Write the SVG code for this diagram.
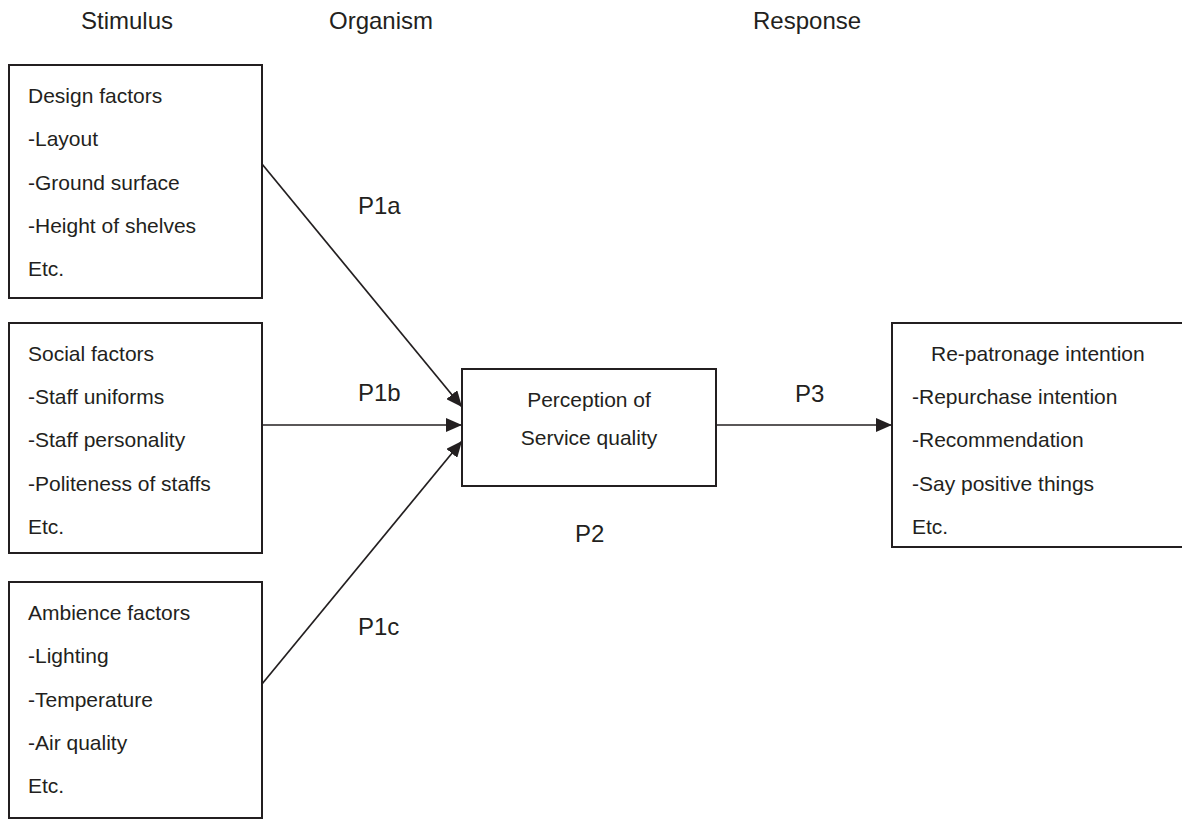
<svg xmlns="http://www.w3.org/2000/svg" width="1182" height="819" viewBox="0 0 1182 819">
<style>
  .box { fill: #ffffff; stroke: #231f20; stroke-width: 2; }
  .t { font-family: "Liberation Sans", Arial, sans-serif; font-size: 21px; fill: #231f20; }
  .h { font-family: "Liberation Sans", Arial, sans-serif; font-size: 24px; fill: #231f20; }
  .p { font-family: "Liberation Sans", Arial, sans-serif; font-size: 24px; fill: #231f20; }
  .c { font-family: "Liberation Sans", Arial, sans-serif; font-size: 21px; fill: #231f20; text-anchor: middle; }
  .ln { stroke: #231f20; stroke-width: 1.7; fill: none; marker-end: url(#ah); }
</style>
<defs>
  <marker id="ah" markerWidth="16" markerHeight="14" refX="16" refY="7" orient="auto" markerUnits="userSpaceOnUse">
    <path d="M0,0 L16,7 L0,14 Z" fill="#231f20"/>
  </marker>
</defs>
<rect width="1182" height="819" fill="#ffffff"/>
<g id="headers">
  <text class="h" x="81" y="29">Stimulus</text>
  <text class="h" x="329" y="29">Organism</text>
  <text class="h" x="753" y="29">Response</text>
</g>
<g id="design">
  <rect class="box" x="9" y="65" width="253" height="233"/>
  <text class="t" x="28" y="103">Design factors</text>
  <text class="t" x="28" y="146">-Layout</text>
  <text class="t" x="28" y="190">-Ground surface</text>
  <text class="t" x="28" y="233">-Height of shelves</text>
  <text class="t" x="28" y="276">Etc.</text>
</g>
<g id="social">
  <rect class="box" x="9" y="323" width="253" height="230"/>
  <text class="t" x="28" y="361">Social factors</text>
  <text class="t" x="28" y="404">-Staff uniforms</text>
  <text class="t" x="28" y="447">-Staff personality</text>
  <text class="t" x="28" y="491">-Politeness of staffs</text>
  <text class="t" x="28" y="534">Etc.</text>
</g>
<g id="ambience">
  <rect class="box" x="9" y="582" width="253" height="236"/>
  <text class="t" x="28" y="620">Ambience factors</text>
  <text class="t" x="28" y="663">-Lighting</text>
  <text class="t" x="28" y="707">-Temperature</text>
  <text class="t" x="28" y="750">-Air quality</text>
  <text class="t" x="28" y="793">Etc.</text>
</g>
<g id="perception">
  <rect class="box" x="462" y="369" width="254" height="117"/>
  <text class="c" x="589" y="407">Perception of</text>
  <text class="c" x="589" y="445">Service quality</text>
</g>
<g id="repatronage">
  <rect class="box" x="892" y="323" width="295" height="224"/>
  <text class="t" x="931" y="361">Re-patronage intention</text>
  <text class="t" x="912" y="404">-Repurchase intention</text>
  <text class="t" x="912" y="447">-Recommendation</text>
  <text class="t" x="912" y="491">-Say positive things</text>
  <text class="t" x="912" y="534">Etc.</text>
</g>
<g id="connectors">
  <line class="ln" x1="262" y1="164" x2="462" y2="407"/>
  <line class="ln" x1="262" y1="425" x2="462" y2="425"/>
  <line class="ln" x1="262" y1="684" x2="462" y2="441"/>
  <line class="ln" x1="716" y1="425" x2="892" y2="425"/>
</g>
<g id="labels">
  <text class="p" x="358" y="214">P1a</text>
  <text class="p" x="358" y="401">P1b</text>
  <text class="p" x="358" y="635">P1c</text>
  <text class="p" x="575" y="542">P2</text>
  <text class="p" x="795" y="402">P3</text>
</g>
</svg>
